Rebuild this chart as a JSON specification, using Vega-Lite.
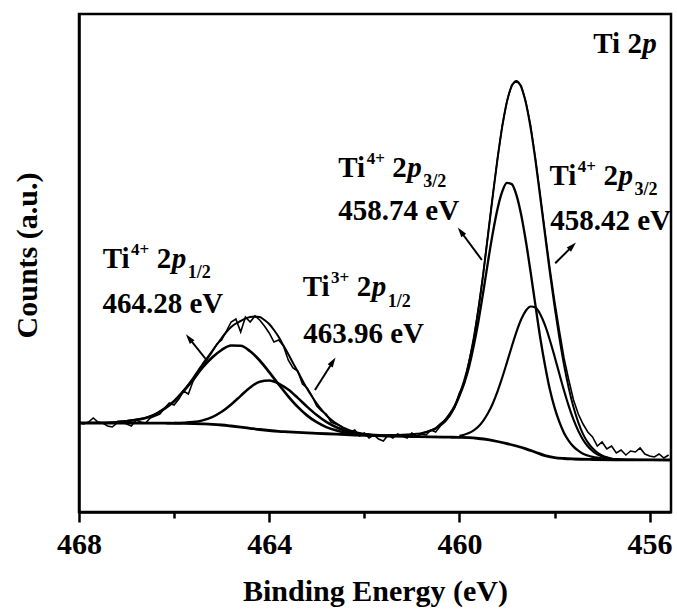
{
"$schema": "https://vega.github.io/schema/vega-lite/v6.json",
"width": 592, "height": 498,
"autosize": {"type": "none"},
"padding": {"left": 79, "top": 14, "right": 6, "bottom": 98},
"background": "white",
"datasets": {
"fit": [
{"s":"bg","E":468.0,"v":89},{"s":"bg","E":467.5,"v":89},{"s":"bg","E":467.0,"v":89},{"s":"bg","E":466.6,"v":88.9},{"s":"bg","E":466.2,"v":88.8},{"s":"bg","E":465.8,"v":88.6},{"s":"bg","E":465.4,"v":88.1},{"s":"bg","E":465.2,"v":87.7},{"s":"bg","E":465.0,"v":87.0},{"s":"bg","E":464.8,"v":86.0},{"s":"bg","E":464.6,"v":84.9},{"s":"bg","E":464.4,"v":83.7},{"s":"bg","E":464.2,"v":82.5},{"s":"bg","E":464.0,"v":81.5},{"s":"bg","E":463.8,"v":80.7},{"s":"bg","E":463.6,"v":80.2},{"s":"bg","E":463.4,"v":79.6},{"s":"bg","E":463.2,"v":79.1},{"s":"bg","E":463.0,"v":78.7},{"s":"bg","E":462.6,"v":77.8},{"s":"bg","E":462.2,"v":77.0},{"s":"bg","E":461.8,"v":76.4},{"s":"bg","E":461.4,"v":75.9},{"s":"bg","E":461.0,"v":75.5},{"s":"bg","E":460.6,"v":75.1},{"s":"bg","E":460.2,"v":74.8},{"s":"bg","E":460.0,"v":74.6},{"s":"bg","E":459.8,"v":74.3},{"s":"bg","E":459.6,"v":73.5},{"s":"bg","E":459.4,"v":72.3},{"s":"bg","E":459.2,"v":70.5},{"s":"bg","E":459.0,"v":68.4},{"s":"bg","E":458.8,"v":66.0},{"s":"bg","E":458.6,"v":63.2},{"s":"bg","E":458.4,"v":59.8},{"s":"bg","E":458.2,"v":56.4},{"s":"bg","E":458.0,"v":54.4},{"s":"bg","E":457.8,"v":53.5},{"s":"bg","E":457.6,"v":53.0},{"s":"bg","E":457.2,"v":52.5},{"s":"bg","E":456.6,"v":52.2},{"s":"bg","E":455.55,"v":52.0},
{"s":"A1","E":467.2,"v":90.1},{"s":"A1","E":467.0,"v":90.8},{"s":"A1","E":466.8,"v":92.0},{"s":"A1","E":466.6,"v":94.0},{"s":"A1","E":466.4,"v":97.5},{"s":"A1","E":466.2,"v":103.3},{"s":"A1","E":466.0,"v":110.8},{"s":"A1","E":465.8,"v":120.9},{"s":"A1","E":465.6,"v":132.4},{"s":"A1","E":465.4,"v":144.5},{"s":"A1","E":465.2,"v":154.5},{"s":"A1","E":465.0,"v":162.0},{"s":"A1","E":464.8,"v":166.5},{"s":"A1","E":464.6,"v":166.3},{"s":"A1","E":464.4,"v":160.7},{"s":"A1","E":464.2,"v":151.5},{"s":"A1","E":464.0,"v":139.9},{"s":"A1","E":463.8,"v":127.5},{"s":"A1","E":463.6,"v":115.7},{"s":"A1","E":463.4,"v":105.1},{"s":"A1","E":463.2,"v":96.4},{"s":"A1","E":463.0,"v":89.8},{"s":"A1","E":462.8,"v":84.9},{"s":"A1","E":462.6,"v":81.7},{"s":"A1","E":462.4,"v":79.5},{"s":"A1","E":462.2,"v":78.1},{"s":"A1","E":462.0,"v":77.2},{"s":"A1","E":461.6,"v":76.3},
{"s":"B1","E":466.0,"v":88.9},{"s":"B1","E":465.8,"v":89.2},{"s":"B1","E":465.6,"v":89.9},{"s":"B1","E":465.4,"v":91.6},{"s":"B1","E":465.2,"v":94.9},{"s":"B1","E":465.0,"v":100.2},{"s":"B1","E":464.8,"v":107.5},{"s":"B1","E":464.6,"v":116.2},{"s":"B1","E":464.4,"v":124.6},{"s":"B1","E":464.2,"v":130.3},{"s":"B1","E":464.0,"v":131.5},{"s":"B1","E":463.8,"v":128.4},{"s":"B1","E":463.6,"v":122.4},{"s":"B1","E":463.4,"v":114.1},{"s":"B1","E":463.2,"v":105.2},{"s":"B1","E":463.0,"v":97.0},{"s":"B1","E":462.8,"v":90.1},{"s":"B1","E":462.6,"v":85.0},{"s":"B1","E":462.4,"v":81.4},{"s":"B1","E":462.2,"v":79.0},{"s":"B1","E":462.0,"v":77.7},{"s":"B1","E":461.8,"v":76.8},{"s":"B1","E":461.4,"v":76.0},
{"s":"A2","E":460.8,"v":78.7},{"s":"A2","E":460.7,"v":79.9},{"s":"A2","E":460.6,"v":81.5},{"s":"A2","E":460.5,"v":83.6},{"s":"A2","E":460.4,"v":87.5},{"s":"A2","E":460.3,"v":91.7},{"s":"A2","E":460.2,"v":97.8},{"s":"A2","E":460.1,"v":105.3},{"s":"A2","E":460.0,"v":116.0},{"s":"A2","E":459.9,"v":128.7},{"s":"A2","E":459.8,"v":144.6},{"s":"A2","E":459.7,"v":165.9},{"s":"A2","E":459.6,"v":190.8},{"s":"A2","E":459.5,"v":219.5},{"s":"A2","E":459.4,"v":249.9},{"s":"A2","E":459.3,"v":278.4},{"s":"A2","E":459.2,"v":302.8},{"s":"A2","E":459.1,"v":320.4},{"s":"A2","E":459.0,"v":329.1},{"s":"A2","E":458.9,"v":327.9},{"s":"A2","E":458.8,"v":316.9},{"s":"A2","E":458.7,"v":297.0},{"s":"A2","E":458.6,"v":270.2},{"s":"A2","E":458.5,"v":239.1},{"s":"A2","E":458.4,"v":206.3},{"s":"A2","E":458.3,"v":174.3},{"s":"A2","E":458.2,"v":146.8},{"s":"A2","E":458.1,"v":123.0},{"s":"A2","E":458.0,"v":104.6},{"s":"A2","E":457.9,"v":90.3},{"s":"A2","E":457.8,"v":79.1},{"s":"A2","E":457.7,"v":71.2},{"s":"A2","E":457.6,"v":65.4},{"s":"A2","E":457.5,"v":61.4},{"s":"A2","E":457.4,"v":58.3},{"s":"A2","E":457.3,"v":56.5},{"s":"A2","E":457.2,"v":55.2},{"s":"A2","E":457.1,"v":54.3},{"s":"A2","E":457.0,"v":53.6},{"s":"A2","E":456.9,"v":52.9},{"s":"A2","E":456.8,"v":52.3},{"s":"A2","E":456.6,"v":52.2},
{"s":"B2","E":460.0,"v":76.2},{"s":"B2","E":459.9,"v":77.3},{"s":"B2","E":459.8,"v":79.0},{"s":"B2","E":459.7,"v":81.7},{"s":"B2","E":459.6,"v":85.5},{"s":"B2","E":459.5,"v":91.2},{"s":"B2","E":459.4,"v":98.7},{"s":"B2","E":459.3,"v":108.3},{"s":"B2","E":459.2,"v":120.3},{"s":"B2","E":459.1,"v":134.3},{"s":"B2","E":459.0,"v":149.6},{"s":"B2","E":458.9,"v":165.2},{"s":"B2","E":458.8,"v":180.1},{"s":"B2","E":458.7,"v":192.7},{"s":"B2","E":458.6,"v":201.5},{"s":"B2","E":458.5,"v":205.5},{"s":"B2","E":458.4,"v":204.4},{"s":"B2","E":458.3,"v":197.8},{"s":"B2","E":458.2,"v":186.8},{"s":"B2","E":458.1,"v":172.3},{"s":"B2","E":458.0,"v":155.8},{"s":"B2","E":457.9,"v":138.5},{"s":"B2","E":457.8,"v":121.5},{"s":"B2","E":457.7,"v":105.9},{"s":"B2","E":457.6,"v":92.3},{"s":"B2","E":457.5,"v":81.1},{"s":"B2","E":457.4,"v":72.3},{"s":"B2","E":457.3,"v":65.7},{"s":"B2","E":457.2,"v":61.0},{"s":"B2","E":457.1,"v":57.6},{"s":"B2","E":457.0,"v":55.5},{"s":"B2","E":456.9,"v":54.1},{"s":"B2","E":456.8,"v":53.3},{"s":"B2","E":456.7,"v":52.7},{"s":"B2","E":456.6,"v":52.5},{"s":"B2","E":456.3,"v":52.2},
{"s":"env","E":468.0,"v":89.0},{"s":"env","E":467.6,"v":89.2},{"s":"env","E":467.4,"v":89.5},{"s":"env","E":467.2,"v":90.1},{"s":"env","E":467.0,"v":91.0},{"s":"env","E":466.8,"v":92.5},{"s":"env","E":466.6,"v":94.0},{"s":"env","E":466.5,"v":95.5},{"s":"env","E":466.4,"v":97.5},{"s":"env","E":466.3,"v":100.5},{"s":"env","E":466.2,"v":103.5},{"s":"env","E":466.1,"v":107.0},{"s":"env","E":466.0,"v":111.0},{"s":"env","E":465.9,"v":116.0},{"s":"env","E":465.8,"v":121.5},{"s":"env","E":465.7,"v":127.5},{"s":"env","E":465.6,"v":134.0},{"s":"env","E":465.5,"v":141.0},{"s":"env","E":465.4,"v":148.0},{"s":"env","E":465.3,"v":154.5},{"s":"env","E":465.2,"v":161.0},{"s":"env","E":465.1,"v":167.5},{"s":"env","E":465.0,"v":174.0},{"s":"env","E":464.9,"v":180.0},{"s":"env","E":464.8,"v":185.0},{"s":"env","E":464.7,"v":188.5},{"s":"env","E":464.6,"v":191.0},{"s":"env","E":464.5,"v":193.5},{"s":"env","E":464.4,"v":195.0},{"s":"env","E":464.3,"v":195.5},{"s":"env","E":464.2,"v":195.0},{"s":"env","E":464.1,"v":192.0},{"s":"env","E":464.0,"v":188.0},{"s":"env","E":463.9,"v":182.0},{"s":"env","E":463.8,"v":175.0},{"s":"env","E":463.7,"v":166.5},{"s":"env","E":463.6,"v":158.0},{"s":"env","E":463.5,"v":149.0},{"s":"env","E":463.4,"v":140.5},{"s":"env","E":463.3,"v":131.5},{"s":"env","E":463.2,"v":123.0},{"s":"env","E":463.1,"v":115.5},{"s":"env","E":463.0,"v":108.5},{"s":"env","E":462.9,"v":102.3},{"s":"env","E":462.8,"v":96.8},{"s":"env","E":462.7,"v":92.5},{"s":"env","E":462.6,"v":88.8},{"s":"env","E":462.5,"v":86.0},{"s":"env","E":462.4,"v":83.5},{"s":"env","E":462.3,"v":81.6},{"s":"env","E":462.2,"v":80.1},{"s":"env","E":462.1,"v":79.0},{"s":"env","E":462.0,"v":78.2},{"s":"env","E":461.8,"v":77.3},{"s":"env","E":461.6,"v":76.8},{"s":"env","E":461.4,"v":76.9},{"s":"env","E":461.2,"v":77.2},{"s":"env","E":461.0,"v":77.8},{"s":"env","E":460.9,"v":78.2},{"s":"env","E":460.8,"v":78.7},{"s":"env","E":460.7,"v":79.9},{"s":"env","E":460.6,"v":81.5},{"s":"env","E":460.5,"v":83.7},{"s":"env","E":460.4,"v":87.7},{"s":"env","E":460.3,"v":92.1},{"s":"env","E":460.2,"v":98.4},{"s":"env","E":460.1,"v":106.3},{"s":"env","E":460.0,"v":117.6},{"s":"env","E":459.9,"v":131.5},{"s":"env","E":459.8,"v":149.3},{"s":"env","E":459.7,"v":173.6},{"s":"env","E":459.6,"v":202.8},{"s":"env","E":459.5,"v":237.7},{"s":"env","E":459.4,"v":276.3},{"s":"env","E":459.3,"v":315.3},{"s":"env","E":459.2,"v":352.6},{"s":"env","E":459.1,"v":385.2},{"s":"env","E":459.0,"v":410.3},{"s":"env","E":458.9,"v":425.9},{"s":"env","E":458.8,"v":431.0},{"s":"env","E":458.7,"v":425.0},{"s":"env","E":458.6,"v":408.5},{"s":"env","E":458.5,"v":383.1},{"s":"env","E":458.4,"v":350.9},{"s":"env","E":458.3,"v":314.1},{"s":"env","E":458.2,"v":277.2},{"s":"env","E":458.1,"v":240.1},{"s":"env","E":458.0,"v":206.0},{"s":"env","E":457.9,"v":174.9},{"s":"env","E":457.8,"v":147.1},{"s":"env","E":457.7,"v":123.9},{"s":"env","E":457.6,"v":104.7},{"s":"env","E":457.5,"v":89.7},{"s":"env","E":457.4,"v":77.9},{"s":"env","E":457.3,"v":69.6},{"s":"env","E":457.2,"v":63.7},{"s":"env","E":457.1,"v":59.5},{"s":"env","E":457.0,"v":56.7},{"s":"env","E":456.9,"v":54.7},{"s":"env","E":456.8,"v":53.3},{"s":"env","E":456.7,"v":52.7},{"s":"env","E":456.6,"v":52.5},{"s":"env","E":456.2,"v":52.2},{"s":"env","E":455.55,"v":52.0}
],
"raw": [
{"E":468.0,"v":89},{"E":467.9,"v":88},{"E":467.8,"v":90},{"E":467.7,"v":94},{"E":467.6,"v":90},{"E":467.5,"v":89},{"E":467.4,"v":86},{"E":467.3,"v":85},{"E":467.2,"v":89},{"E":467.1,"v":90},{"E":467.0,"v":88},{"E":466.9,"v":86},{"E":466.8,"v":92},{"E":466.7,"v":90},{"E":466.6,"v":89},{"E":466.5,"v":94},{"E":466.4,"v":96},{"E":466.3,"v":98},{"E":466.2,"v":104},{"E":466.1,"v":109},{"E":466.0,"v":107},{"E":465.9,"v":113},{"E":465.8,"v":121},{"E":465.7,"v":118},{"E":465.6,"v":131},{"E":465.5,"v":139},{"E":465.4,"v":145},{"E":465.3,"v":153},{"E":465.2,"v":160},{"E":465.1,"v":168},{"E":465.0,"v":172},{"E":464.9,"v":181},{"E":464.8,"v":190},{"E":464.7,"v":193},{"E":464.6,"v":180},{"E":464.5,"v":195},{"E":464.4,"v":190},{"E":464.3,"v":196},{"E":464.2,"v":192},{"E":464.1,"v":186},{"E":464.0,"v":179},{"E":463.9,"v":170},{"E":463.8,"v":172},{"E":463.7,"v":166},{"E":463.6,"v":152},{"E":463.5,"v":144},{"E":463.4,"v":141},{"E":463.3,"v":128},{"E":463.2,"v":124},{"E":463.1,"v":116},{"E":463.0,"v":106},{"E":462.9,"v":101},{"E":462.8,"v":98},{"E":462.7,"v":90},{"E":462.6,"v":88},{"E":462.5,"v":86},{"E":462.4,"v":82},{"E":462.3,"v":80},{"E":462.2,"v":82},{"E":462.1,"v":76},{"E":462.0,"v":79},{"E":461.9,"v":74},{"E":461.8,"v":77},{"E":461.7,"v":73},{"E":461.6,"v":71},{"E":461.5,"v":77},{"E":461.4,"v":74},{"E":461.3,"v":78},{"E":461.2,"v":76},{"E":461.1,"v":74},{"E":461.0,"v":79},{"E":460.9,"v":76},{"E":460.8,"v":78},{"E":460.7,"v":77},{"E":460.6,"v":82},{"E":460.5,"v":80},{"E":460.4,"v":86},{"E":460.3,"v":90},{"E":460.2,"v":96},{"E":460.1,"v":104},{"E":460.0,"v":119},{"E":459.9,"v":128},{"E":459.8,"v":150},{"E":459.7,"v":172},{"E":459.6,"v":204},{"E":459.5,"v":238},{"E":459.4,"v":277},{"E":459.3,"v":316},{"E":459.2,"v":353},{"E":459.1,"v":386},{"E":459.0,"v":411},{"E":458.9,"v":427},{"E":458.8,"v":431},{"E":458.7,"v":426},{"E":458.6,"v":410},{"E":458.5,"v":386},{"E":458.4,"v":354},{"E":458.3,"v":318},{"E":458.2,"v":281},{"E":458.1,"v":245},{"E":458.0,"v":212},{"E":457.9,"v":182},{"E":457.8,"v":154},{"E":457.7,"v":132},{"E":457.6,"v":112},{"E":457.5,"v":98},{"E":457.4,"v":88},{"E":457.3,"v":80},{"E":457.2,"v":75},{"E":457.1,"v":66},{"E":457.0,"v":70},{"E":456.9,"v":63},{"E":456.8,"v":66},{"E":456.7,"v":59},{"E":456.6,"v":62},{"E":456.5,"v":57},{"E":456.4,"v":61},{"E":456.3,"v":60},{"E":456.2,"v":64},{"E":456.1,"v":58},{"E":456.0,"v":56},{"E":455.9,"v":55},{"E":455.8,"v":58},{"E":455.7,"v":54},{"E":455.6,"v":57}
],
"mainText": [
{"E":467.501,"v":244,"t":"Ti"},{"E":466.364,"v":244,"t":"2"},{"E":467.507,"v":198.7,"t":"464.28 eV"},
{"E":463.297,"v":216,"t":"Ti"},{"E":462.160,"v":216,"t":"2"},{"E":463.284,"v":168.7,"t":"463.96 eV"},
{"E":462.547,"v":335.3,"t":"Ti"},{"E":461.411,"v":335.3,"t":"2"},{"E":462.547,"v":292,"t":"458.74 eV"},
{"E":458.105,"v":327,"t":"Ti"},{"E":456.969,"v":327,"t":"2"},{"E":458.091,"v":282,"t":"458.42 eV"},
{"E":457.185,"v":458.7,"t":"Ti 2"}
],
"italicText": [
{"E":466.049,"v":244,"t":"p"},{"E":461.844,"v":216,"t":"p"},{"E":461.095,"v":335.3,"t":"p"},{"E":456.653,"v":327,"t":"p"},{"E":456.154,"v":458.7,"t":"p"}
],
"supText": [
{"E":466.905,"v":257,"t":"4+"},{"E":462.701,"v":229,"t":"3+"},{"E":461.951,"v":348.3,"t":"4+"},{"E":457.509,"v":340,"t":"4+"}
],
"subText": [
{"E":465.712,"v":234,"t":"1/2"},{"E":461.507,"v":205.5,"t":"1/2"},{"E":460.758,"v":325.3,"t":"3/2"},{"E":456.316,"v":317,"t":"3/2"}
],
"arrows": [
{"E":465.318,"v":152,"E2":465.686,"v2":173.9},
{"E":463.038,"v":122,"E2":462.661,"v2":150.3},
{"E":459.528,"v":252,"E2":459.971,"v2":280.5},
{"E":457.985,"v":248.7,"E2":457.623,"v2":265.9}
]
},
"encoding": {
"x": {"field":"E","type":"quantitative","scale":{"domain":[455.55,468],"reverse":true,"nice":false,"zero":false},
 "axis":{"values":[468,466,464,462,460,458,456],"labelExpr":"datum.value % 4 === 0 ? datum.label : ''",
 "tickSize":{"condition":{"test":"datum.value % 4 === 0","value":10},"value":6},
 "labelBaseline":"alphabetic","labelPadding":31,"labelFlush":false,"labelOverlap":false,
 "title":"Binding Energy (eV)","titleBaseline":"alphabetic","titleY":88}},
"y": {"field":"v","type":"quantitative","scale":{"domain":[0,498],"nice":false,"zero":false},
 "axis":{"ticks":false,"labels":false,"title":"Counts (a.u.)","titleAngle":270,"titleBaseline":"alphabetic","titleX":-43,"titleY":241}}
},
"layer": [
{"data":{"name":"fit"},"mark":{"type":"line","interpolate":"monotone","clip":true,"color":"black"},
 "encoding":{"detail":{"field":"s"},"strokeWidth":{"field":"s","type":"nominal","scale":{"domain":["bg","A1","B1","A2","B2","env"],"range":[2.8,2,2,2,2,3.2]},"legend":null}}},
{"data":{"name":"raw"},"mark":{"type":"line","clip":true,"color":"black","strokeWidth":1.6}},
{"data":{"name":"arrows"},"mark":{"type":"rule","color":"black","strokeWidth":2},
 "encoding":{"x2":{"field":"E2"},"y2":{"field":"v2"}}},
{"data":{"values":[{"E":465.686,"v":173.9}]},"mark":{"type":"point","shape":"M0,-1L0.6,1L-0.6,1Z","filled":true,"color":"black","opacity":1,"size":100,"angle":321.3}},
{"data":{"values":[{"E":462.661,"v":150.3}]},"mark":{"type":"point","shape":"M0,-1L0.6,1L-0.6,1Z","filled":true,"color":"black","opacity":1,"size":100,"angle":32.2}},
{"data":{"values":[{"E":459.971,"v":280.5}]},"mark":{"type":"point","shape":"M0,-1L0.6,1L-0.6,1Z","filled":true,"color":"black","opacity":1,"size":100,"angle":323.6}},
{"data":{"values":[{"E":457.623,"v":265.9}]},"mark":{"type":"point","shape":"M0,-1L0.6,1L-0.6,1Z","filled":true,"color":"black","opacity":1,"size":100,"angle":45}},
{"data":{"name":"mainText"},"mark":{"type":"text","align":"left","baseline":"alphabetic","font":"Liberation Serif","fontWeight":"bold","fontSize":29,"color":"black"},
 "encoding":{"text":{"field":"t"}}},
{"data":{"name":"italicText"},"mark":{"type":"text","align":"left","baseline":"alphabetic","font":"Liberation Serif","fontWeight":"bold","fontStyle":"italic","fontSize":29,"color":"black"},
 "encoding":{"text":{"field":"t"}}},
{"data":{"name":"supText"},"mark":{"type":"text","align":"left","baseline":"alphabetic","font":"Liberation Serif","fontWeight":"bold","fontSize":17,"color":"black"},
 "encoding":{"text":{"field":"t"}}},
{"data":{"name":"subText"},"mark":{"type":"text","align":"left","baseline":"alphabetic","font":"Liberation Serif","fontWeight":"bold","fontSize":18,"color":"black"},
 "encoding":{"text":{"field":"t"}}}
],
"config": {
"view": {"stroke":"black","strokeWidth":2.5},
"axis": {"grid":false,"domainColor":"black","domainWidth":2.5,"tickColor":"black","tickWidth":2.5,
 "labelFont":"Liberation Serif","labelFontWeight":"bold","labelFontSize":30,"labelColor":"black",
 "titleFont":"Liberation Serif","titleFontWeight":"bold","titleFontSize":30,"titleColor":"black"}
}
}
